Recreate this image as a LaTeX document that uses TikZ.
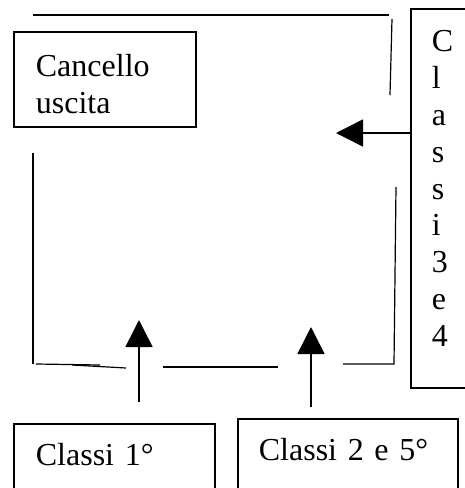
\documentclass[tikz,border=0pt]{standalone}
\usepackage{fontspec}
\setmainfont{Liberation Serif}
\usetikzlibrary{arrows.meta}
\tikzset{
  wall/.style={line width=1.2pt},
  boxnode/.style={draw, line width=1.8pt, inner ysep=0pt, align=left, anchor=north west,
    font=\fontsize{32}{36.8}\selectfont},
  arr/.style={line width=1.5pt, -{Triangle[width=27pt,length=27pt]}}
}
\begin{document}
\begin{tikzpicture}[x=1pt,y=-1pt]
\useasboundingbox (0,0) rectangle (465,488);
\clip (0,0) rectangle (465,488);
% boxes
\node[boxnode, inner xsep=22pt, text width=138pt, text height=45pt, text depth=50pt] (gate) at (13,31) {Cancello\\uscita};
\node[boxnode, inner xsep=21pt, text width=13pt, text height=43pt, text depth=336pt] (c34) at (410,8) {C\\l\\a\\s\\s\\i\\3\\e\\4};
\node[boxnode, inner xsep=22pt, text width=157pt, text height=42pt, text depth=40pt] (c1) at (13,423) {Classi 1°};
\node[boxnode, inner xsep=21pt, text width=178pt, text height=42pt, text depth=45pt] (c25) at (237,418) {Classi 2 e 5°};
% walls of the yard
\coordinate (tl) at (33,15);
\coordinate (tr) at (389,15);
\coordinate (rt1) at (392,19);
\coordinate (rt2) at (390,95);
\coordinate (lv1) at (33,153);
\coordinate (lv2) at (33,364);
\coordinate (bl1) at (36,364);
\coordinate (bl2) at (100,365);
\coordinate (bl3) at (72,365);
\coordinate (bl4) at (126,368);
\coordinate (bm1) at (163,367);
\coordinate (bm2) at (278,367);
\coordinate (br1) at (343,364);
\coordinate (br2) at (394,364);
\coordinate (br3) at (396,187);
\draw[wall] (tl) -- (tr);
\draw[wall] (rt1) -- (rt2);
\draw[wall] (lv1) -- (lv2);
\draw[wall] (bl1) -- (bl2);
\draw[wall] (bl3) -- (bl4);
\draw[wall] (bm1) -- (bm2);
\draw[wall] (br1) -- (br2) -- (br3);
% arrows
\coordinate (a1s) at (139,402);
\coordinate (a1e) at (139,320);
\coordinate (a2s) at (311,407);
\coordinate (a2e) at (311,327);
\coordinate (a3s) at (c34.west |- 0,133);
\coordinate (a3e) at (336,133);
\draw[arr] (a1s) -- (a1e);
\draw[arr] (a2s) -- (a2e);
\draw[arr] (a3s) -- (a3e);
\end{tikzpicture}
\end{document}
